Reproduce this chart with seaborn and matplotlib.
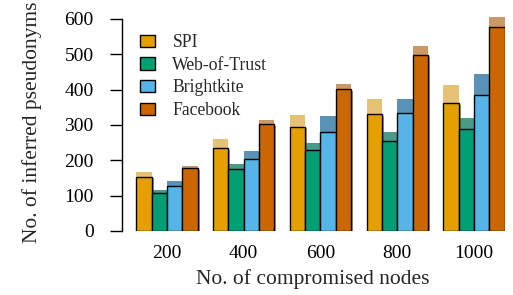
import matplotlib
matplotlib.use("Agg")
import matplotlib.pyplot as plt
import matplotlib.patches as mpatches
import matplotlib.patheffects as pe
import seaborn as sns
import pandas as pd

nodes = [200, 400, 600, 800, 1000]
networks = ["SPI", "Web-of-Trust", "Brightkite", "Facebook"]

# solid part of each bar and the total reached by the lighter cap
spi_base = [154, 235, 295, 331, 362]
spi_top = [166, 261, 328, 374, 413]
wot_base = [107, 176, 229, 255, 289]
wot_top = [116, 190, 248, 280, 320]
bk_base = [127, 203, 279, 333, 385]
bk_top = [141, 226, 325, 374, 444]
fb_base = [178, 302, 401, 498, 577]
fb_top = [185, 314, 416, 524, 606]

base_colors = ["#E69F00", "#009E73", "#56B4E9", "#CC6600"]
top_colors = ["#E6C274", "#4A9A8A", "#5892B6", "#CC9966"]

rows = []
for name, b, t in zip(networks,
                      [spi_base, wot_base, bk_base, fb_base],
                      [spi_top, wot_top, bk_top, fb_top]):
    for n, bv, tv in zip(nodes, b, t):
        rows.append({"nodes": n, "network": name, "base": bv, "top": tv})
df = pd.DataFrame(rows)

sns.set_theme(style="ticks")
plt.rcParams["font.family"] = ["Liberation Serif", "DejaVu Serif"]

fig = plt.figure(figsize=(5.13, 2.95), dpi=100)
ax = fig.add_axes([0.237, 0.217, 0.747, 0.737])

sns.barplot(data=df, x="nodes", y="top", hue="network", hue_order=networks,
            palette=top_colors, saturation=1, width=0.8, linewidth=0,
            errorbar=None, legend=False, ax=ax)
n_before = len(ax.patches)
sns.barplot(data=df, x="nodes", y="base", hue="network", hue_order=networks,
            palette=base_colors, saturation=1, width=0.8, edgecolor="black",
            linewidth=1.0, errorbar=None, legend=False, ax=ax)
for p in ax.patches[n_before:]:
    p.set_path_effects([pe.SimplePatchShadow(offset=(1.5, -1.2),
                                             shadow_rgbFace="#555555", alpha=0.6),
                        pe.Normal()])

ax.set_xlim(-0.59, 4.4)
ax.set_ylim(0, 615)
ax.set_yticks([0, 100, 200, 300, 400, 500, 600])
ax.spines["left"].set_bounds(0, 600)
for s in ["top", "right", "bottom"]:
    ax.spines[s].set_visible(False)
ax.spines["left"].set_linewidth(1.0)
ax.spines["left"].set_color("black")
ax.tick_params(axis="y", length=9, width=1.0, pad=11, labelsize=14, colors="black")
ax.tick_params(axis="x", length=0, pad=10, labelsize=14, colors="black")
ax.set_xlabel("No. of compromised nodes", fontsize=15.5, labelpad=5)
ax.set_ylabel("No. of inferred pseudonyms", fontsize=15.5, labelpad=16)

handles = [mpatches.Patch(facecolor=c, edgecolor="black", linewidth=1.0, label=n)
           for c, n in zip(base_colors, networks)]
ax.legend(handles=handles, loc="upper left", bbox_to_anchor=(0.02, 0.955),
          frameon=False, fontsize=12.7, handlelength=0.85, handleheight=0.7,
          handletextpad=1.0, labelspacing=0.32, borderaxespad=0.2)

fig.savefig("out.png", dpi=100)
